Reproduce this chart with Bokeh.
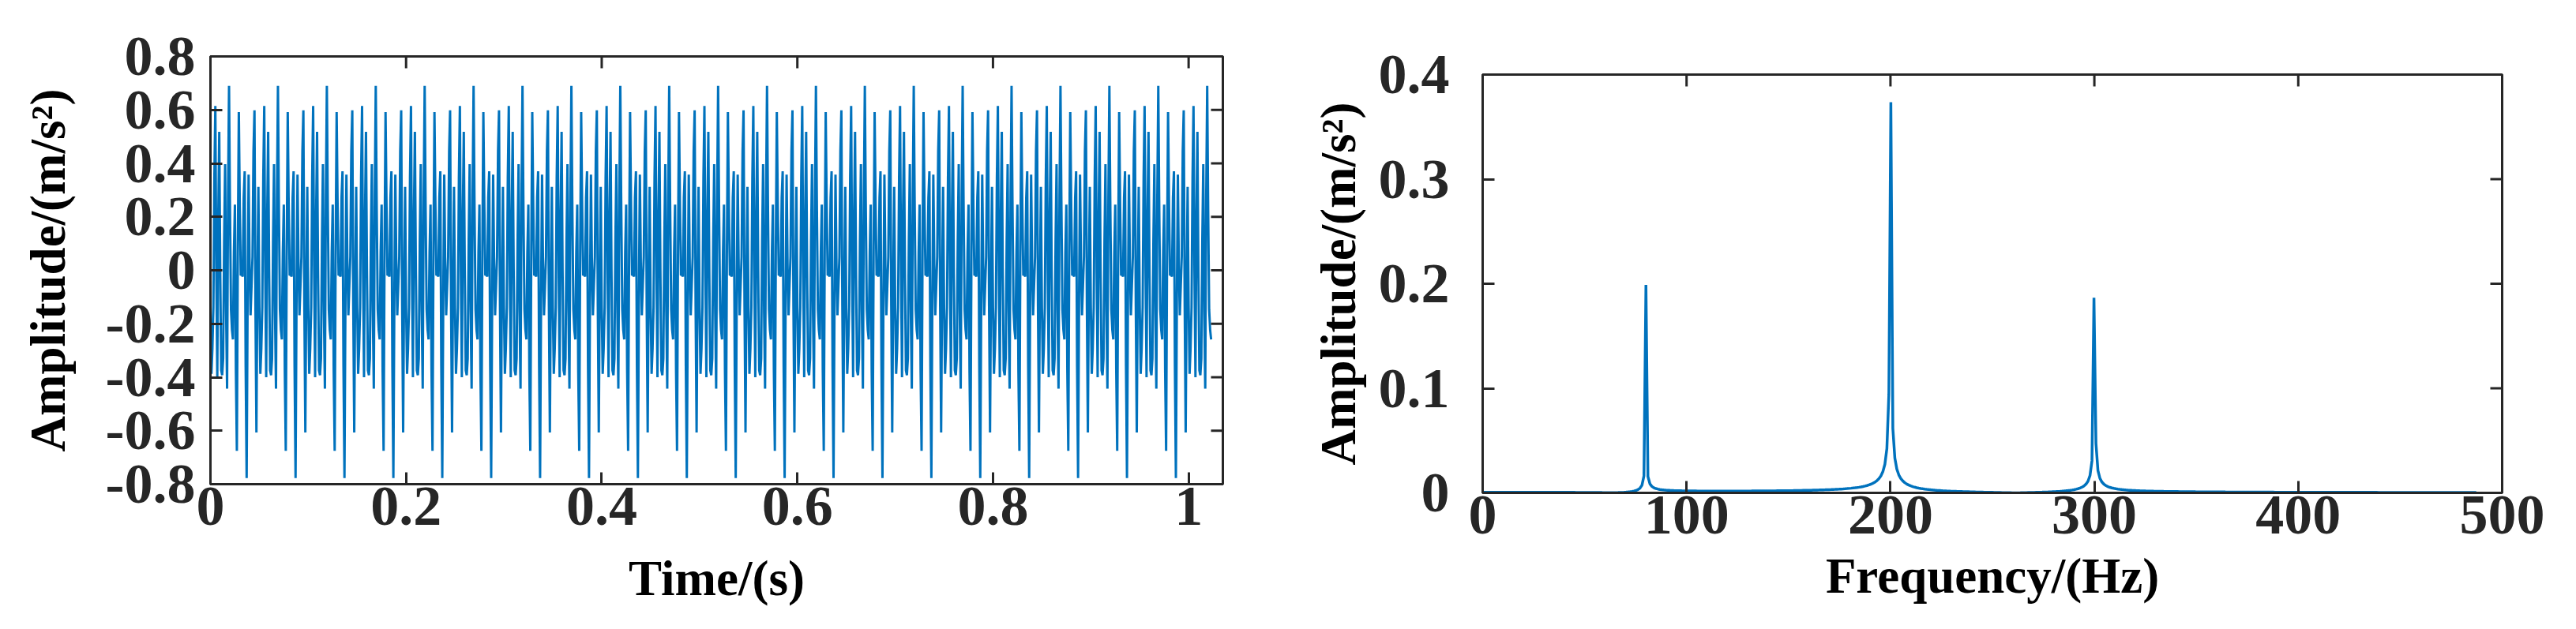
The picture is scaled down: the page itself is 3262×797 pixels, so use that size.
import numpy as np
from bokeh.plotting import figure
from bokeh.layouts import row, column
from bokeh.models import Range1d, FixedTicker
from bokeh.embed import file_html
from bokeh.resources import INLINE

# ---- data ----
FS = 1000                          # sampling rate (Hz)
N_SAMPLES = 1024                   # samples in the record
COMP_FREQS = [80, 200, 300]        # spectral peaks (Hz)
COMP_AMPS = [0.2, 0.4, 0.2]        # component amplitudes (m/s^2)
COMP_PHASES_DEG = [274, 140, 250]  # phases fitted to the drawn waveform
SPEC_BINS = 500                    # number of spectrum bins drawn

T_TICKS = [0, 0.2, 0.4, 0.6, 0.8, 1]
T_TICK_LABELS = ["0", "0.2", "0.4", "0.6", "0.8", "1"]
A1_TICKS = [-0.8, -0.6, -0.4, -0.2, 0, 0.2, 0.4, 0.6, 0.8]
A1_TICK_LABELS = ["-0.8", "-0.6", "-0.4", "-0.2", "0", "0.2", "0.4", "0.6", "0.8"]
F_TICKS = [0, 100, 200, 300, 400, 500]
F_TICK_LABELS = ["0", "100", "200", "300", "400", "500"]
A2_TICKS = [0, 0.1, 0.2, 0.3, 0.4]
A2_TICK_LABELS = ["0", "0.1", "0.2", "0.3", "0.4"]

# ---- derived series ----
n = np.arange(N_SAMPLES)
t = n / FS
sig = sum(a * np.sin(2 * np.pi * f * n / FS + np.deg2rad(p))
          for a, f, p in zip(COMP_AMPS, COMP_FREQS, COMP_PHASES_DEG))
spec = (2 * np.abs(np.fft.fft(sig)) / N_SAMPLES)[:SPEC_BINS]
freq = np.arange(SPEC_BINS) * FS / N_SAMPLES

# ---- styling ----
FONT = "Liberation Serif"
TXT = "#262626"
LINE = "#0072BD"
TICK_PX = 15

def style(p, xr, yr, fw, fh, xt, xl, yt, yl, xlabel, ylabel, ystand, ylabstand, xlabstand):
    p.xaxis.axis_label = xlabel
    p.yaxis.axis_label = ylabel
    p.xaxis.ticker = FixedTicker(ticks=xt)
    p.yaxis.ticker = FixedTicker(ticks=yt)
    p.xaxis.major_label_overrides = {v: s for v, s in zip(xt, xl)}
    p.yaxis.major_label_overrides = {v: s for v, s in zip(yt, yl)}
    for ax in (p.xaxis[0], p.yaxis[0]):
        ax.major_label_text_font = FONT
        ax.major_label_text_font_style = "bold"
        ax.major_label_text_font_size = "72px"
        ax.major_label_text_color = TXT
        ax.axis_label_text_font = FONT
        ax.axis_label_text_font_style = "bold"
        ax.axis_label_text_font_size = "63px"
        ax.axis_label_text_color = "#000000"
        ax.axis_line_color = TXT
        ax.axis_line_width = 3
        ax.major_tick_line_color = TXT
        ax.major_tick_line_width = 3
        ax.major_tick_in = TICK_PX
        ax.major_tick_out = 0
        ax.minor_tick_line_color = None
    p.xaxis.major_label_standoff = 4
    p.xaxis.axis_label_standoff = xlabstand
    p.yaxis.major_label_standoff = ystand
    p.yaxis.axis_label_standoff = ylabstand
    # mirrored inward ticks on the top and right edges of the box
    dy = TICK_PX * (yr[1] - yr[0]) / fh
    dx = TICK_PX * (xr[1] - xr[0]) / fw
    p.segment(x0=xt, y0=[yr[1]] * len(xt), x1=xt, y1=[yr[1] - dy] * len(xt),
              line_color=TXT, line_width=3)
    p.segment(x0=[xr[1]] * len(yt), y0=yt, x1=[xr[1] - dx] * len(yt), y1=yt,
              line_color=TXT, line_width=3)
    p.xgrid.visible = False
    p.ygrid.visible = False
    p.outline_line_color = TXT
    p.outline_line_width = 3
    p.background_fill_color = "white"
    p.border_fill_color = "white"

X1, Y1 = (0, 1.035), (-0.8, 0.8)
p1 = figure(frame_width=1282, frame_height=542,
            min_border_left=266, min_border_right=108, min_border_top=71, min_border_bottom=177,
            x_range=Range1d(*X1), y_range=Range1d(*Y1),
            output_backend="svg", toolbar_location=None)
p1.line(t, sig, line_color=LINE, line_width=3)
style(p1, X1, Y1, 1282, 542, T_TICKS, T_TICK_LABELS, A1_TICKS, A1_TICK_LABELS,
      "Time/(s)", "Amplitude/(m/s²)", 19, 35, 30)

X2, Y2 = (0, 500), (0, 0.4)
p2 = figure(frame_width=1291, frame_height=530,
            min_border_left=218, min_border_right=89, min_border_top=94, min_border_bottom=166,
            x_range=Range1d(*X2), y_range=Range1d(*Y2),
            output_backend="svg", toolbar_location=None)
p2.line(freq, spec, line_color=LINE, line_width=3.5)
style(p2, X2, Y2, 1291, 530, F_TICKS, F_TICK_LABELS, A2_TICKS, A2_TICK_LABELS,
      "Frequency/(Hz)", "Amplitude/(m/s²)", 42, 13, 16)

open("out.html", "w").write(file_html(row(column(p1), column(p2)), INLINE))
